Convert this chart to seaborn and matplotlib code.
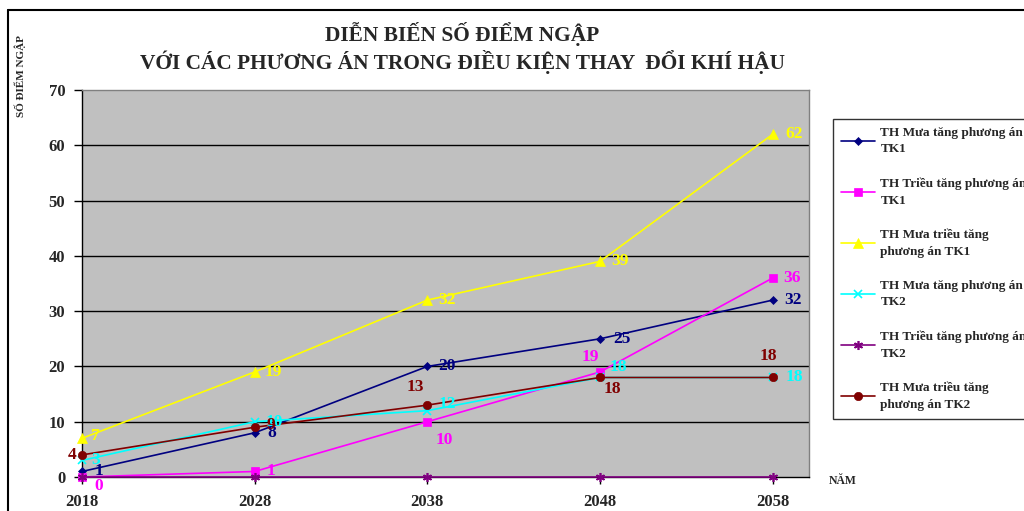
import matplotlib
matplotlib.use('Agg')
import matplotlib.pyplot as plt
import seaborn as sns
import pandas as pd
from matplotlib.lines import Line2D

# ---------------- data ----------------
years = [2018, 2028, 2038, 2048, 2058]
series_names = [
    "TH Mưa tăng phương án\nTK1",
    "TH Triều tăng phương án\nTK1",
    "TH Mưa triều tăng\nphương án TK1",
    "TH Mưa tăng phương án\nTK2",
    "TH Triều tăng phương án\nTK2",
    "TH Mưa triều tăng\nphương án TK2",
]
tk1_mua = [1, 8, 20, 25, 32]
tk1_trieu = [0, 1, 10, 19, 36]
tk1_mua_trieu = [7, 19, 32, 39, 62]
tk2_mua = [3, 10, 12, 18, 18]
tk2_trieu = [0, 0, 0, 0, 0]
tk2_mua_trieu = [4, 9, 13, 18, 18]
series_values = [tk1_mua, tk1_trieu, tk1_mua_trieu, tk2_mua, tk2_trieu, tk2_mua_trieu]
show_labels = [True, True, True, True, False, True]

title_text = "DIỄN BIẾN SỐ ĐIỂM NGẬP\nVỚI CÁC PHƯƠNG ÁN TRONG ĐIỀU KIỆN THAY  ĐỔI KHÍ HẬU"
ylabel_text = "SỐ ĐIỂM NGẬP"
xlabel_text = "NĂM"
y_ticks = [0, 10, 20, 30, 40, 50, 60, 70]

# ---------------- styles ----------------
colors = ["#000080", "#FF00FF", "#FFFF00", "#00FFFF", "#800080", "#800000"]
markers = ["D", "s", "^", "x", (6, 2, 0), "o"]
msizes = [4.5, 5.5, 6.5, 5.5, 6.5, 6]
# label offsets in pixels (dx, dy), label centred
label_offsets = [
    [(17, 0), (17, 0), (20, 0), (22, 0), (20, 0)],
    [(17, -9), (16, 0), (17, -18), (-10, 15), (19, 0)],
    [(13, 2), (19, 0), (20, 0), (20, 0), (21, 0)],
    [(14, 0), (20, 0), (20, 7), (18, 10), (22, 0)],
    [(0, 0)] * 5,
    [(-10, 0), (16, 2), (-12, 18), (12, -12), (-4, 21)],
]

sns.set_theme(style="white")
plt.rcParams['font.family'] = ['Liberation Serif', 'DejaVu Serif']
plt.rcParams['font.weight'] = 'bold'

W, H = 1024, 511
fig = plt.figure(figsize=(W / 100, H / 100), dpi=100)
fig.patch.set_facecolor('white')
ax = fig.add_axes([82 / W, 1 - 477 / H, (809 - 82) / W, (477 - 90) / H])
ax.set_facecolor('#C0C0C0')

rows = []
for name, vals in zip(series_names, series_values):
    for yr, v in zip(years, vals):
        rows.append({"year": yr, "value": v, "series": name})
df = pd.DataFrame(rows)

for i, name in enumerate(series_names):
    sub = df[df["series"] == name]
    sns.lineplot(data=sub, x="year", y="value", ax=ax, color=colors[i],
                 marker=markers[i], markersize=msizes[i], markeredgecolor=colors[i],
                 markeredgewidth=1.2 if markers[i] in ("x", (6, 2, 0)) else 0.5,
                 linewidth=1.2, label=name, zorder=3 + i, clip_on=False)

for i, vals in enumerate(series_values):
    if not show_labels[i]:
        continue
    for j, (yr, v) in enumerate(zip(years, vals)):
        dx, dy = label_offsets[i][j]
        ax.annotate(str(v), (yr, v), xytext=(dx, dy), textcoords='offset pixels',
                    ha='center', va='center', color=colors[i], fontsize=12.5,
                    fontweight='bold', zorder=20, annotation_clip=False)

ax.set_xlim(2018, 2060.1)
ax.set_ylim(0, 70)
ax.set_yticks(y_ticks)
ax.set_xticks(years)
ax.set_xticklabels([str(y) for y in years])
ax.tick_params(axis='y', direction='out', length=6, width=1, color='black',
               labelsize=12, pad=6)
ax.tick_params(axis='x', direction='out', length=5, width=1, color='black',
               labelsize=12, pad=7.5)
ax.tick_params(left=True, bottom=True)
for lbl in ax.get_xticklabels() + ax.get_yticklabels():
    lbl.set_fontweight('bold')
ax.set_xlabel("")
ax.set_ylabel("")
for y in y_ticks[1:-1]:
    ax.axhline(y, color='black', linewidth=1, zorder=1)
ax.spines['left'].set_color('black')
ax.spines['bottom'].set_color('black')
ax.spines['top'].set_color('#808080')
ax.spines['right'].set_color('#808080')
for s in ax.spines.values():
    s.set_linewidth(1)
    s.set_visible(True)

# title and axis labels
fig.text(462 / W, 1 - 48 / H, title_text, ha='center', va='center', fontsize=15.4,
         fontweight='bold', linespacing=1.24)
fig.text(20 / W, 1 - 76 / H, ylabel_text, rotation=90, ha='center', va='center',
         fontsize=8, fontweight='bold')
fig.text(843 / W, 1 - 481 / H, xlabel_text, ha='center', va='center',
         fontsize=8.5, fontweight='bold')

# legend
handles, labels = ax.get_legend_handles_labels()
if ax.get_legend():
    ax.get_legend().remove()
leg = fig.legend(handles, labels, loc='upper left',
                 bbox_to_anchor=(833 / W, 1 - 119 / H), borderaxespad=0,
                 fontsize=9.5, frameon=True, fancybox=False, edgecolor='black',
                 handlelength=2.6, handletextpad=0.4, labelspacing=1.68,
                 borderpad=0.6)
leg.get_frame().set_linewidth(1)
for t in leg.get_texts():
    t.set_fontweight('bold')
    t.set_linespacing(1.5)

# outer chart frame
fig.add_artist(Line2D([8 / W, 8 / W], [0, 1 - 10 / H], color='black', linewidth=1.5,
                      transform=fig.transFigure))
fig.add_artist(Line2D([8 / W, 1], [1 - 10 / H, 1 - 10 / H], color='black', linewidth=1.5,
                      transform=fig.transFigure))

fig.savefig('out.png', dpi=100)
